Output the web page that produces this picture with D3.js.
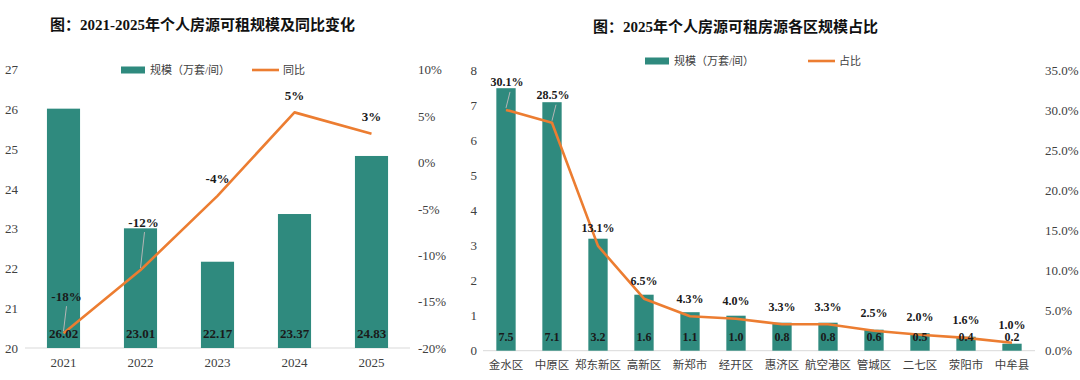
<!DOCTYPE html>
<html><head><meta charset="utf-8">
<script src="https://cdn.jsdelivr.net/npm/d3@7"></script>
<style>
body{margin:0;background:#fff;}
svg{display:block;font-family:"Liberation Serif","Noto Sans CJK SC",serif;}
</style></head>
<body><svg id="c" width="1080" height="380"></svg>
<script>
// ---- Data: left chart ----
const years = ["2021","2022","2023","2024","2025"];
const scaleValues = [26.02, 23.01, 22.17, 23.37, 24.83];
const yoyValues = [-0.184, -0.116, -0.036, 0.054, 0.031];
const leftTicks = [20,21,22,23,24,25,26,27];
const yoyTicks = [-0.20,-0.15,-0.10,-0.05,0,0.05,0.10];
// ---- Data: right chart ----
const districts = ["金水区","中原区","郑东新区","高新区","新郑市","经开区","惠济区","航空港区","管城区","二七区","荥阳市","中牟县"];
const districtScale = [7.5, 7.1, 3.2, 1.6, 1.1, 1.0, 0.8, 0.8, 0.6, 0.5, 0.4, 0.2];
const districtShare = [0.301, 0.285, 0.131, 0.065, 0.043, 0.040, 0.033, 0.033, 0.025, 0.020, 0.016, 0.010];
const rightTicks = [0,1,2,3,4,5,6,7,8];
const shareTicks = [0,0.05,0.10,0.15,0.20,0.25,0.30,0.35];
const titles = ["图：2021-2025年个人房源可租规模及同比变化","图：2025年个人房源可租房源各区规模占比"];
const legendBar = "规模（万套/间）";
const legendLines = ["同比","占比"];

const TEAL = "#2f8a7e", ORANGE = "#ec7d31", TICK = "#404040", LABEL = "#1a1a1a";
const FONT = '"Liberation Serif","Noto Sans CJK SC",serif';
const loc = d3.formatLocale({decimal:".",thousands:",",grouping:[3],currency:["",""],minus:"-"});
const svg = d3.select("#c");

function chart(o){
  const g = svg.append("g");
  const x = d3.scaleBand().domain(o.cats).range([o.x0,o.x1]).paddingInner(o.pad).paddingOuter(o.pad/2);
  const yL = d3.scaleLinear().domain(o.lDom).range([o.yb,o.yt]);
  const yR = d3.scaleLinear().domain(o.rDom).range([o.yb,o.yt]);
  // title
  g.append("text").attr("x",o.tx).attr("y",o.ty).attr("dy","0.35em")
    .attr("font-size",15).attr("font-weight","bold").attr("fill","#111").text(o.title);
  // axes
  const aL = g.append("g").attr("transform",`translate(${o.lx},0)`)
    .call(d3.axisLeft(yL).tickValues(o.lTicks).tickSize(0).tickPadding(0).tickFormat(loc.format("d")));
  const aR = g.append("g").attr("transform",`translate(${o.rx},0)`)
    .call(d3.axisRight(yR).tickValues(o.rTicks).tickSize(0).tickPadding(0).tickFormat(loc.format(o.rFmt)));
  [aL,aR].forEach(a=>{a.attr("font-family",FONT).select(".domain").remove();
    a.selectAll("text").attr("font-size",13).attr("fill",TICK);});
  // baseline
  g.append("line").attr("x1",o.x0).attr("x2",o.x1).attr("y1",o.yb).attr("y2",o.yb)
    .attr("stroke","#d9d9d9").attr("stroke-width",1);
  // x axis labels
  const ax = g.append("g").attr("transform",`translate(0,${o.xly})`)
    .call(d3.axisBottom(x).tickSize(0).tickPadding(0));
  ax.attr("font-family",FONT).select(".domain").remove();
  ax.selectAll("text").attr("font-size",o.xfs).attr("fill",TICK).attr("dy","0.35em");
  // bars
  g.selectAll("rect.bar").data(o.bars).join("rect").attr("class","bar")
    .attr("x",(d,i)=>x(o.cats[i])).attr("width",x.bandwidth())
    .attr("y",d=>yL(d)).attr("height",d=>o.yb-yL(d)).attr("fill",TEAL);
  // line
  const line = d3.line().x((d,i)=>x(o.cats[i])+x.bandwidth()/2).y(d=>yR(d));
  g.append("path").datum(o.line).attr("d",line).attr("fill","none")
    .attr("stroke",ORANGE).attr("stroke-width",2.6).attr("stroke-linejoin","round");
  // bar value labels
  g.selectAll("text.bv").data(o.bars).join("text").attr("class","bv")
    .attr("x",(d,i)=>x(o.cats[i])+x.bandwidth()/2).attr("y",o.bvy).attr("dy","0.35em")
    .attr("text-anchor","middle").attr("font-size",o.lfs).attr("font-weight","bold").attr("fill",LABEL)
    .text(d=>loc.format(o.bFmt)(d));
  // line labels
  o.line.forEach((v,i)=>{
    const cx = x(o.cats[i])+x.bandwidth()/2, py = yR(v);
    const off = o.lblOff(i);
    const lx = cx + off[0], ly = py - off[1];
    if(off[2]){
      g.append("line").attr("x1",cx).attr("y1",py-2).attr("x2",lx+off[3]).attr("y2",ly+10)
        .attr("stroke","#b5b5b5").attr("stroke-width",1);
    }
    g.append("text").attr("x",lx).attr("y",ly).attr("dy","0.35em").attr("text-anchor","middle")
      .attr("font-size",o.lfs).attr("font-weight","bold").attr("fill",LABEL).text(loc.format(o.lFmt)(v));
  });
  // legend
  const lg = g.append("g");
  lg.append("rect").attr("x",o.lg[0]).attr("y",o.lg[2]-3.5).attr("width",24).attr("height",7).attr("fill",TEAL);
  lg.append("text").attr("x",o.lg[0]+29).attr("y",o.lg[2]).attr("dy","0.35em")
    .attr("font-size",11).attr("fill",TICK).text(legendBar);
  lg.append("line").attr("x1",o.lg[1]).attr("x2",o.lg[1]+27).attr("y1",o.lg[2]).attr("y2",o.lg[2])
    .attr("stroke",ORANGE).attr("stroke-width",2.6);
  lg.append("text").attr("x",o.lg[1]+31).attr("y",o.lg[2]).attr("dy","0.35em")
    .attr("font-size",11).attr("fill",TICK).text(o.lgLine);
}

chart({
  cats:years, bars:scaleValues, line:yoyValues, x0:25, x1:410, pad:0.57,
  lDom:[20,27], rDom:[-0.2,0.1], yb:348, yt:69.7, lTicks:leftTicks, rTicks:yoyTicks, rFmt:".0%",
  lx:18, rx:418, xly:362, xfs:13, bvy:333, bFmt:".2f", lFmt:".0%", lfs:13,
  lblOff:i=>[[3,37,1,0],[3,48,1,1],[0,17,0,0],[0,17,0,0],[0,17,0,0]][i],
  title:titles[0], tx:50, ty:25, lg:[121,252,70], lgLine:legendLines[0]
});
chart({
  cats:districts, bars:districtScale, line:districtShare, x0:483, x1:1035, pad:0.58,
  lDom:[0,8], rDom:[0,0.35], yb:350.7, yt:70.7, lTicks:rightTicks, rTicks:shareTicks, rFmt:".1%",
  lx:477, rx:1045, xly:365, xfs:11.5, bvy:337, bFmt:".1f", lFmt:".1%", lfs:12,
  lblOff:i=>(i<2?[1,28,1,3]:[0,18,0,0]),
  title:titles[1], tx:593, ty:27, lg:[645,808,61], lgLine:legendLines[1]
});
</script></body></html>
